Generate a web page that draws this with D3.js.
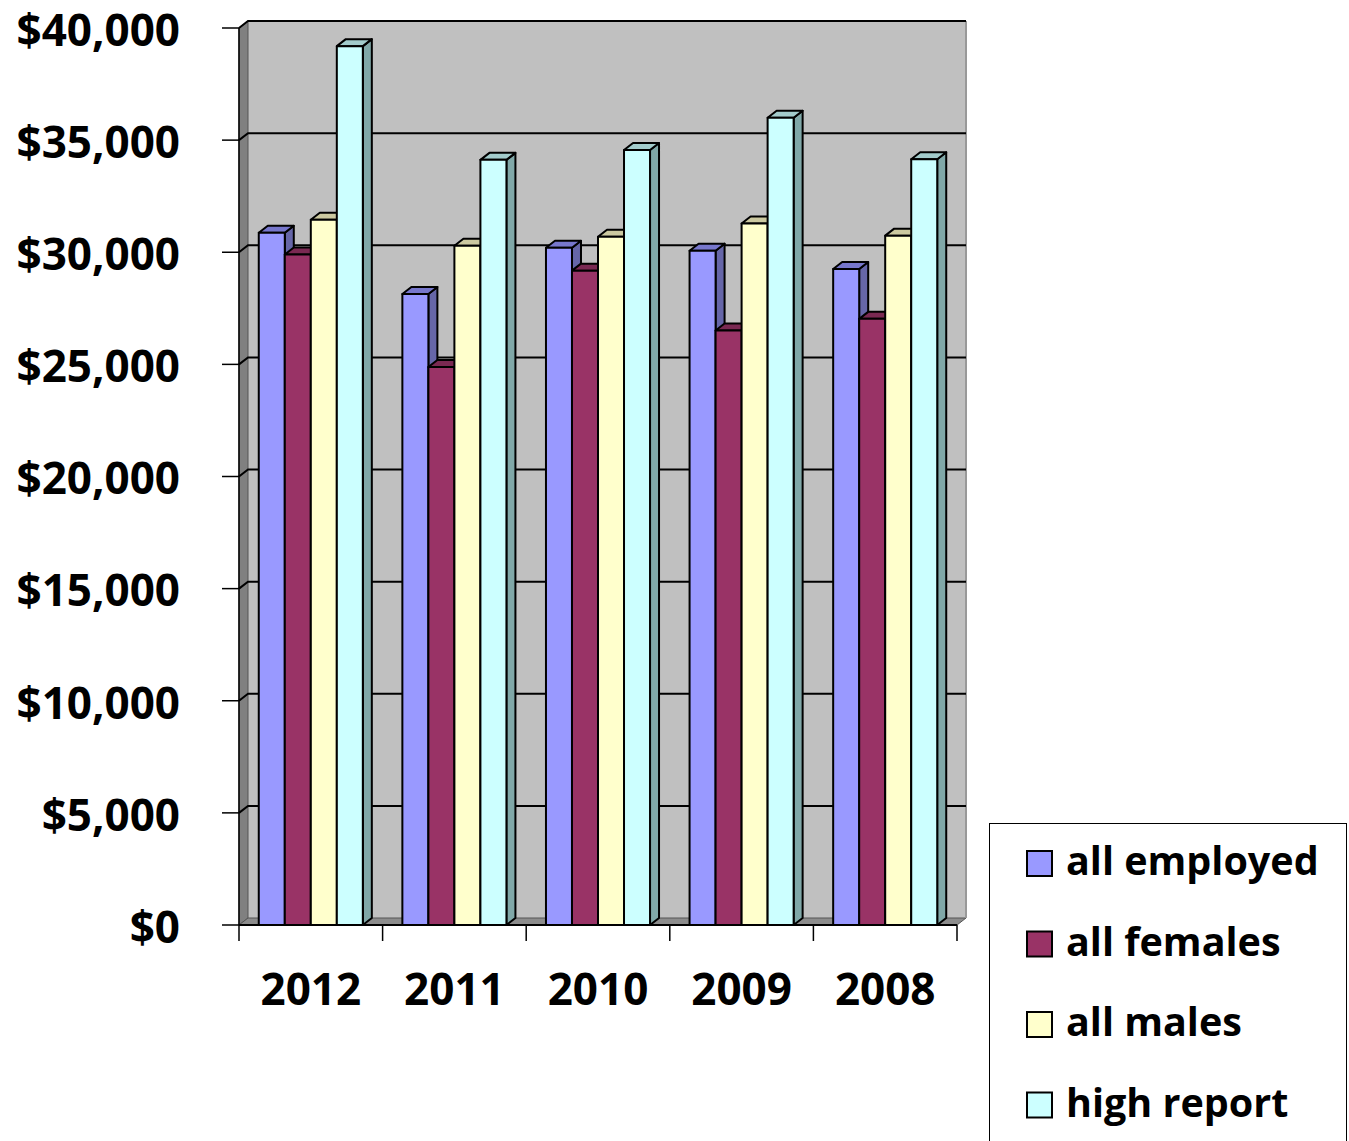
<!DOCTYPE html>
<html>
<head>
<meta charset="utf-8">
<script src="https://cdn.jsdelivr.net/npm/d3@7/dist/d3.min.js"></script>
<style>
  body { margin: 0; background: #fff; }
  svg { display: block; font-family: "Open Sans", sans-serif; font-weight: bold; }
</style>
</head>
<body>
<svg id="chart" width="1349" height="1141"></svg>
<script>
const years = ['2012', '2011', '2010', '2009', '2008'];
const series = ['all employed', 'all females', 'all males', 'high report'];
const allEmployed = [30870, 28140, 30200, 30070, 29250];
const allFemales = [29900, 24880, 29180, 26510, 27030];
const allMales = [31450, 30290, 30690, 31280, 30740];
const highReport = [39190, 34120, 34560, 36000, 34150];
const yTicks = [0, 5000, 10000, 15000, 20000, 25000, 30000, 35000, 40000];

// face colours: front, top, side
const colors = {
  'all employed': ['#9999ff', '#7777cc', '#6666a8'],
  'all females': ['#993366', '#7a2952', '#6b2447'],
  'all males': ['#ffffcc', '#ccc9a0', '#b3b38f'],
  'high report': ['#ccffff', '#a3cccc', '#80a8a8']
};
const values = {
  'all employed': allEmployed,
  'all females': allFemales,
  'all males': allMales,
  'high report': highReport
};

const svg = d3.select('#chart');
const dx = 9, dy = -7;
const x0 = d3.scaleBand().domain(years).range([239, 957]);
const x1 = d3.scaleBand().domain(series).range([0, x0.bandwidth()]).paddingOuter(0.76);
const y = d3.scaleLinear().domain([0, 40000]).range([925, 28]);

const xL = x0.range()[0], xR = x0.range()[1];
const yT = y(40000), yB = y(0);

// walls
const walls = svg.append('g');
walls.append('path') // back wall
  .attr('d', `M${xL + dx},${yT + dy}H${xR + dx}V${yB + dy}H${xL + dx}Z`)
  .attr('fill', '#c0c0c0').attr('stroke', 'none');
walls.append('path') // side wall
  .attr('d', `M${xL},${yT}L${xL + dx},${yT + dy}V${yB + dy}L${xL},${yB}Z`)
  .attr('fill', '#808080').attr('stroke', '#555').attr('stroke-width', 1);
walls.append('path') // floor
  .attr('d', `M${xL},${yB}L${xL + dx},${yB + dy}H${xR + dx}L${xR},${yB}Z`)
  .attr('fill', '#8c8c8c').attr('stroke', '#555').attr('stroke-width', 1);
walls.append('line') // right edge of back wall
  .attr('x1', xR + dx).attr('x2', xR + dx).attr('y1', yT + dy).attr('y2', yB + dy)
  .attr('stroke', '#999').attr('stroke-width', 2);

// gridlines on back wall and side wall
const grid = svg.append('g');
yTicks.filter(v => v > 0).forEach(v => {
  grid.append('path')
    .attr('d', `M${xL},${y(v)}L${xL + dx},${y(v) + dy}H${xR + dx}`)
    .attr('fill', 'none').attr('stroke', '#000').attr('stroke-width', 2);
});

// bars
const bars = svg.append('g');
years.forEach((yr, i) => {
  series.forEach(s => {
    const v = values[s][i];
    const bx = x0(yr) + x1(s), bw = x1.bandwidth();
    const by = y(v), bb = y(0);
    const c = colors[s];
    const g = bars.append('g').attr('stroke', '#000').attr('stroke-width', 2).attr('stroke-linejoin', 'round');
    g.append('path')
      .attr('d', `M${bx + bw},${by}L${bx + bw + dx},${by + dy}V${bb + dy}L${bx + bw},${bb}Z`)
      .attr('fill', c[2]);
    g.append('path')
      .attr('d', `M${bx},${by}L${bx + dx},${by + dy}H${bx + bw + dx}L${bx + bw},${by}Z`)
      .attr('fill', c[1]);
    g.append('rect')
      .attr('x', bx).attr('y', by).attr('width', bw).attr('height', bb - by)
      .attr('fill', c[0]);
  });
});

// front floor edge
svg.append('line')
  .attr('x1', xL).attr('x2', xR).attr('y1', yB).attr('y2', yB)
  .attr('stroke', '#000').attr('stroke-width', 2);

// y axis ticks and labels
const fmt = d3.format('$,');
const yAxis = svg.append('g');
yTicks.forEach(v => {
  yAxis.append('line')
    .attr('x1', xL - 17).attr('x2', xL).attr('y1', y(v)).attr('y2', y(v))
    .attr('stroke', '#000').attr('stroke-width', 1.5);
  yAxis.append('text')
    .attr('x', 180).attr('y', y(v) + 2)
    .attr('dy', '0.36em')
    .attr('text-anchor', 'end')
    .attr('font-size', 44)
    .text(fmt(v));
});
yAxis.append('line')
  .attr('x1', xL).attr('x2', xL).attr('y1', yT).attr('y2', yB)
  .attr('stroke', '#000').attr('stroke-width', 1.5);

// x axis ticks and labels
const xAxis = svg.append('g');
years.concat(['end']).forEach((yr, i) => {
  const xx = i < years.length ? x0(yr) : xR;
  xAxis.append('line')
    .attr('x1', xx).attr('x2', xx).attr('y1', yB).attr('y2', yB + 16)
    .attr('stroke', '#000').attr('stroke-width', 1.5);
});
years.forEach(yr => {
  xAxis.append('text')
    .attr('x', x0(yr) + x0.bandwidth() / 2)
    .attr('y', 1005)
    .attr('text-anchor', 'middle')
    .attr('font-size', 44)
    .text(yr);
});

// legend
const legend = svg.append('g');
legend.append('rect')
  .attr('x', 989.5).attr('y', 823.5).attr('width', 357).attr('height', 330)
  .attr('fill', '#fff').attr('stroke', '#000').attr('stroke-width', 1);
series.forEach((s, i) => {
  const ly = 875 + i * 80.5;
  legend.append('rect')
    .attr('x', 1027).attr('y', ly - 24).attr('width', 25).attr('height', 25)
    .attr('fill', colors[s][0]).attr('stroke', '#000').attr('stroke-width', 2);
  legend.append('text')
    .attr('x', 1066).attr('y', ly)
    .attr('font-size', 39.5)
    .text(s);
});
</script>
</body>
</html>
